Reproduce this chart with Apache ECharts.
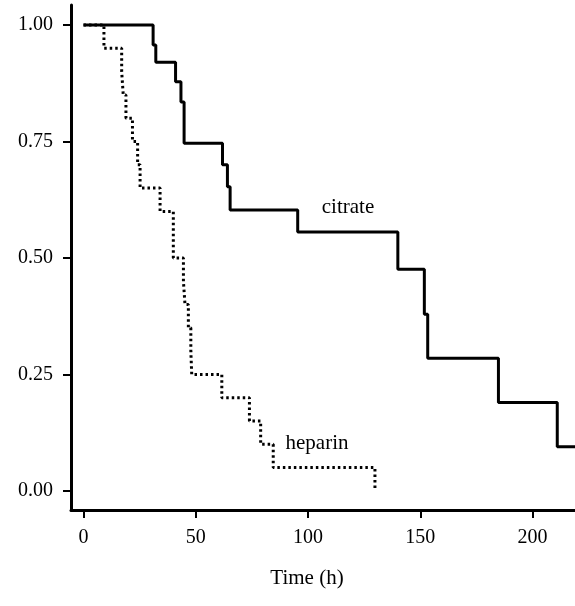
<!DOCTYPE html>
<html>
<head>
<meta charset="utf-8">
<script src="https://cdn.jsdelivr.net/npm/echarts@6/dist/echarts.min.js"></script>
<style>html,body{margin:0;padding:0;background:#fff}#c{width:575px;height:606px}</style>
</head>
<body>
<div id="c"></div>
<script>
// Kaplan-Meier step data (time in hours, survival after event)
const citrateTimes = [0, 31.0, 32.2, 41.0, 43.4, 44.8, 61.9, 64.1, 65.3, 95.4, 140.0, 151.8, 153.3, 184.8, 211.0, 219];
const citrateSurv  = [1.00, 0.957, 0.92, 0.878, 0.835, 0.746, 0.70, 0.653, 0.603, 0.556, 0.476, 0.379, 0.285, 0.19, 0.095, 0.095];
const heparinTimes = [0, 9.1, 17.0, 17.7, 18.9, 21.8, 24.1, 25.2, 34.1, 40.0, 44.5, 45.2, 46.7, 47.8, 48.2, 61.6, 73.9, 78.9, 84.5, 129.8];
const heparinSurv  = [1.00, 0.95, 0.90, 0.85, 0.80, 0.75, 0.70, 0.65, 0.60, 0.50, 0.45, 0.40, 0.35, 0.30, 0.25, 0.20, 0.15, 0.10, 0.05, 0.00];
const xTicks = [0, 50, 100, 150, 200];
const yTicks = [0, 0.25, 0.5, 0.75, 1];
const seriesLabels = ['citrate', 'heparin'];
const xTitle = 'Time (h)';

const font = 'Liberation Serif';
const pair = (xs, ys) => xs.map((x, i) => [x, ys[i]]);

const chart = echarts.init(document.getElementById('c'), null, {renderer: 'canvas'});
chart.setOption({
  animation: false,
  backgroundColor: '#fff',
  grid: {left: 71, right: 0, top: 5, bottom: 96, containLabel: false},
  xAxis: {
    type: 'value', min: -5.57, max: 218.9,
    splitLine: {show: false},
    axisLine: {onZero: false, lineStyle: {color: '#000', width: 3}},
    axisTick: {show: true, customValues: xTicks, length: 8, lineStyle: {color: '#000', width: 2}},
    axisLabel: {customValues: xTicks, margin: 18, color: '#000', fontFamily: font, fontSize: 20}
  },
  yAxis: {
    type: 'value', min: -0.041, max: 1.043,
    splitLine: {show: false},
    axisLine: {show: true, onZero: false, lineStyle: {color: '#000', width: 3}},
    axisTick: {show: true, customValues: yTicks, length: 8, lineStyle: {color: '#000', width: 2}},
    axisLabel: {customValues: yTicks, margin: 18, color: '#000', fontFamily: font, fontSize: 20,
      formatter: v => v.toFixed(2)}
  },
  series: [
    {name: seriesLabels[0], type: 'line', step: 'end', symbol: 'none',
     lineStyle: {color: '#000', width: 3}, data: pair(citrateTimes, citrateSurv)},
    {name: seriesLabels[1], type: 'line', step: 'end', symbol: 'none',
     lineStyle: {color: '#000', width: 3, type: [2.5, 3]}, data: pair(heparinTimes, heparinSurv)}
  ],
  graphic: [
    {type: 'text', x: 348, y: 207, style: {text: seriesLabels[0], font: '21px "Liberation Serif"', fill: '#000', textAlign: 'center', textVerticalAlign: 'middle'}},
    {type: 'text', x: 317, y: 443, style: {text: seriesLabels[1], font: '21px "Liberation Serif"', fill: '#000', textAlign: 'center', textVerticalAlign: 'middle'}},
    {type: 'text', x: 307, y: 578, style: {text: xTitle, font: '21px "Liberation Serif"', fill: '#000', textAlign: 'center', textVerticalAlign: 'middle'}}
  ]
});
</script>
</body>
</html>
